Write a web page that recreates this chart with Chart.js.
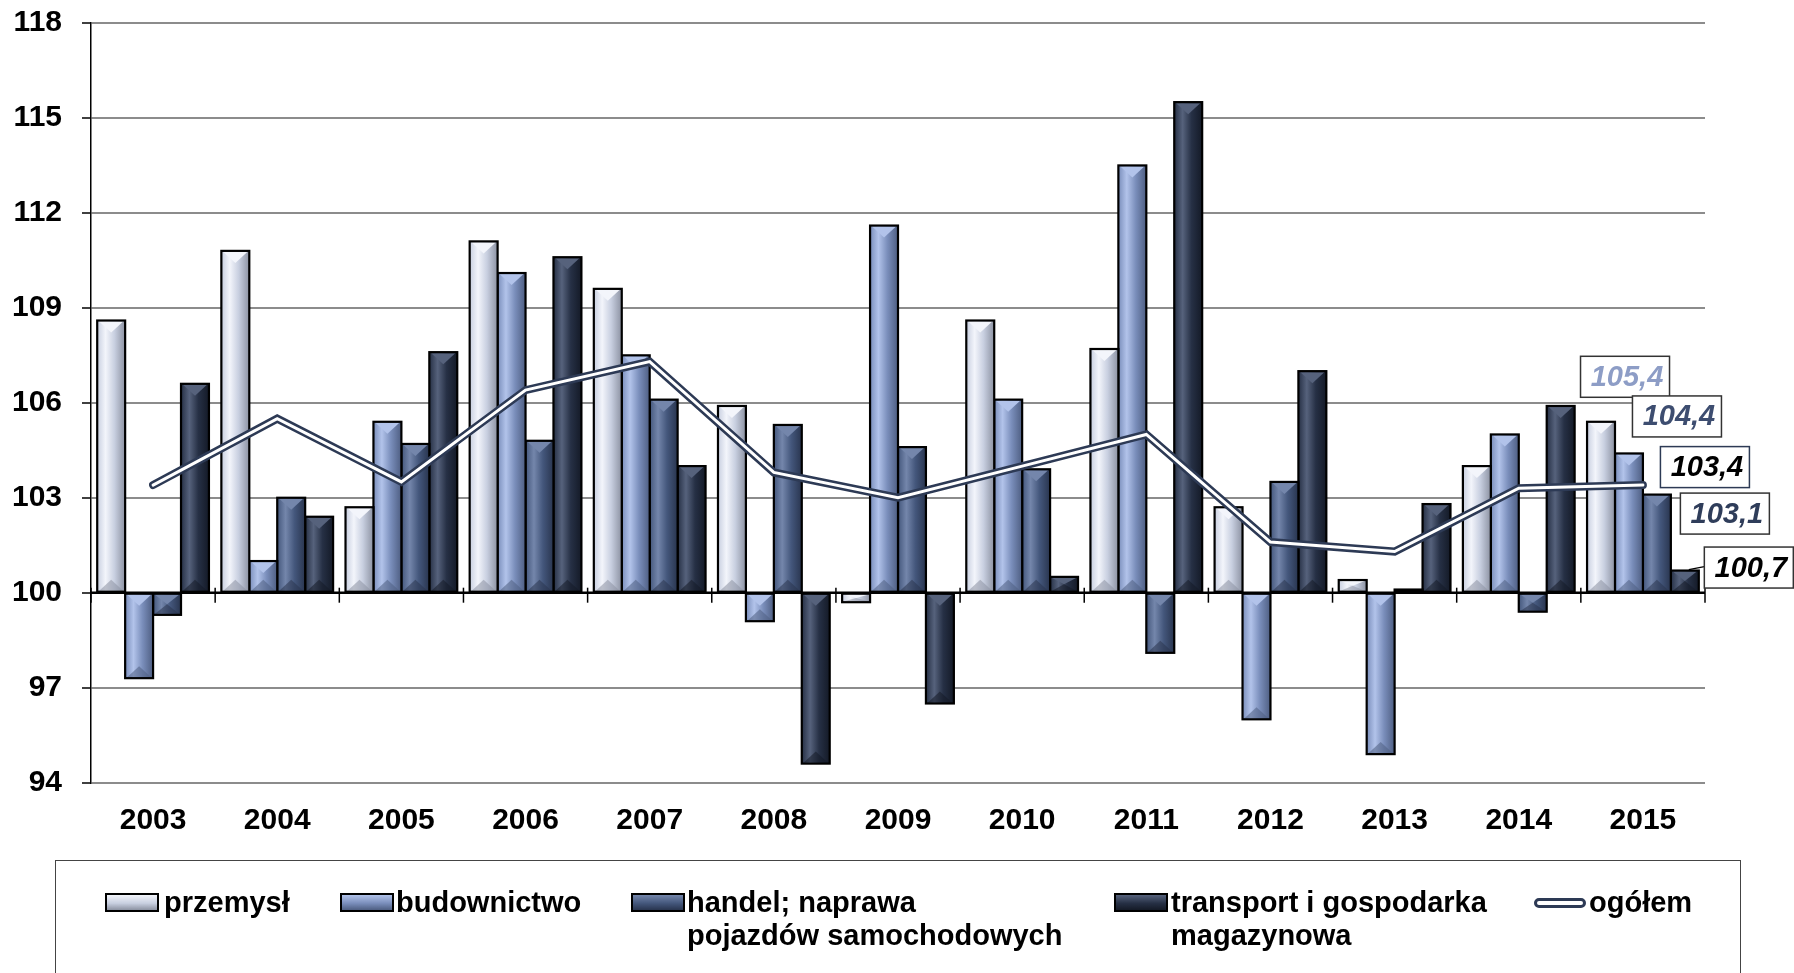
<!DOCTYPE html>
<html lang="pl">
<head>
<meta charset="utf-8">
<title>Dynamika wg sekcji 2003–2015</title>
<script src="https://cdn.jsdelivr.net/npm/chart.js@4.4.1/dist/chart.umd.min.js"></script>
<style>
  html, body { margin: 0; padding: 0; background: #fff; }
  #wrap { position: relative; width: 1794px; height: 973px; overflow: hidden;
          font-family: "Liberation Sans", Arial, sans-serif; }
  #chart { position: absolute; left: 0; top: 0; }
  .legend { position: absolute; left: 55px; top: 860px; width: 1686px; height: 150px;
            border: 1.5px solid #444; box-sizing: border-box; }
  .leg-text { position: absolute; top: 25px; font-weight: bold; font-size: 29px;
              line-height: 33px; color: #000; white-space: nowrap; }
  .leg-icon { position: absolute; top: 32px; width: 54px; height: 19px; box-sizing: border-box;
              border: 2px solid #000; }
  .leg-line { position: absolute; top: 37px; width: 52px; height: 10px; box-sizing: border-box;
              border: 3px solid #2d3a55; border-radius: 5px; background: #fff; }
</style>
</head>
<body>
<div id="wrap">
  <canvas id="chart" width="1794" height="973"></canvas>
  <div class="legend" id="legend"></div>
</div>
<script>
// ---- dane ----
const years = ['2003','2004','2005','2006','2007','2008','2009','2010','2011','2012','2013','2014','2015'];

const przemysl     = [108.6, 110.8, 102.7, 111.1, 109.6, 105.9,  99.7, 108.6, 107.7, 102.7, 100.4, 104.0, 105.4];
const budownictwo  = [ 97.3, 101.0, 105.4, 110.1, 107.5,  99.1, 111.6, 106.1, 113.5,  96.0,  94.9, 105.0, 104.4];
const handel       = [ 99.3, 103.0, 104.7, 104.8, 106.1, 105.3, 104.6, 103.9,  98.1, 103.5, 100.1,  99.4, 103.1];
const transport    = [106.6, 102.4, 107.6, 110.6, 104.0,  94.6,  96.5, 100.5, 115.5, 107.0, 102.8, 105.9, 100.7];
const ogolem       = [103.4, 105.5, 103.5, 106.4, 107.3, 103.8, 103.0, 104.0, 105.0, 101.6, 101.3, 103.3, 103.4];

const seriesNames  = ['przemysł', 'budownictwo', 'handel; naprawa\npojazdów samochodowych',
                      'transport i gospodarka\nmagazynowa', 'ogółem'];

const yMin = 94, yMax = 118, yStep = 3, baseValue = 100;

// ---- wygląd ----
const FONT = '"Liberation Sans", Arial, sans-serif';
const LINE_DARK = '#2d3a55';
const PAL = [
  { base: '#c8cfe0', light: '#f3f5fb', dark: '#8c92a2' },
  { base: '#7a8ebb', light: '#b2c3ea', dark: '#4e5e82' },
  { base: '#44577c', light: '#7486ab', dark: '#29354f' },
  { base: '#263045', light: '#56627c', dark: '#141a27' },
];

// etykiety końcowe (2015): przesunięcia względem słupka/punktu
const endLabels = [
  { ds: 0, dx: 24, dy: -45, color: '#8d9dc6', border: '#333' },
  { ds: 1, dx: 48, dy: -37, color: '#3d4d70', border: '#333' },
  { ds: 4, dx: 62, dy: -18, color: '#000',    border: LINE_DARK },
  { ds: 2, dx: 68, dy: 19,  color: '#2f3d5a', border: '#333' },
  { ds: 3, dx: 64, dy: -3,  color: '#000',    border: '#333', leader: true },
];

function fmt(v) { return v.toFixed(1).replace('.', ','); }

function barDataset(label, data, i) {
  return {
    type: 'bar', label, data, base: baseValue, order: 3,
    backgroundColor: PAL[i].base, borderColor: '#000', borderWidth: 2, borderSkipped: false,
    categoryPercentage: 0.9, barPercentage: 1.0,
  };
}

// cieniowanie słupków (gradient + fazowanie)
const bevelBars = {
  id: 'bevelBars',
  afterDatasetDraw(chart, args) {
    const meta = args.meta;
    if (meta.type !== 'bar') return;
    const pal = PAL[args.index];
    const ctx = chart.ctx;
    meta.data.forEach(el => {
      const p = el.getProps(['x', 'y', 'base', 'width'], true);
      const l = p.x - p.width / 2, r = p.x + p.width / 2;
      const t = Math.min(p.y, p.base), b = Math.max(p.y, p.base);
      const h = b - t;
      ctx.save();
      const g = ctx.createLinearGradient(l, 0, r, 0);
      g.addColorStop(0, pal.base);
      g.addColorStop(0.3, pal.light);
      g.addColorStop(0.62, pal.base);
      g.addColorStop(1, pal.dark);
      ctx.fillStyle = g;
      ctx.fillRect(l, t, r - l, h);
      if (h > 8) {
        const th = Math.min(12, h / 2);
        ctx.fillStyle = pal.light;
        ctx.beginPath();
        ctx.moveTo(l + 2, t + 1); ctx.lineTo(r - 2, t + 1); ctx.lineTo(p.x, t + th);
        ctx.closePath(); ctx.fill();
        ctx.globalAlpha = 0.55;
        ctx.fillStyle = pal.dark;
        ctx.beginPath();
        ctx.moveTo(l + 2, b - 1); ctx.lineTo(r - 2, b - 1); ctx.lineTo(p.x, b - th);
        ctx.closePath(); ctx.fill();
        ctx.globalAlpha = 1;
      }
      ctx.lineWidth = 2.2;
      ctx.strokeStyle = '#000';
      ctx.strokeRect(l, t, r - l, h);
      ctx.restore();
    });
  }
};

// linia 100 i znaczniki kategorii
const baseLine = {
  id: 'baseLine',
  afterDatasetsDraw(chart) {
    const { ctx, chartArea: a, scales: { x, y } } = chart;
    const y0 = y.getPixelForValue(baseValue);
    const w = x.getPixelForValue(1) - x.getPixelForValue(0);
    ctx.save();
    ctx.strokeStyle = '#000';
    ctx.lineWidth = 2.5;
    ctx.beginPath(); ctx.moveTo(a.left, y0); ctx.lineTo(a.right, y0); ctx.stroke();
    ctx.lineWidth = 1.5;
    for (let i = 0; i <= years.length; i++) {
      const px = x.getPixelForValue(i) - w / 2;
      ctx.beginPath(); ctx.moveTo(px, y0 - 5); ctx.lineTo(px, y0 + 10); ctx.stroke();
    }
    ctx.restore();
  }
};

// ramki z wartościami dla 2015
const valueBoxes = {
  id: 'valueBoxes',
  afterDatasetsDraw(chart) {
    const ctx = chart.ctx;
    const bw = 89, bh = 41;
    endLabels.forEach(s => {
      const meta = chart.getDatasetMeta(s.ds);
      const n = meta.data.length - 1;
      const el = meta.data[n];
      const v = chart.data.datasets[s.ds].data[n];
      const ax = el.x;
      const ay = meta.type === 'bar' ? Math.min(el.y, el.base) : el.y;
      const cx = ax + s.dx, cy = ay + s.dy;
      ctx.save();
      if (s.leader) {
        ctx.strokeStyle = '#000'; ctx.lineWidth = 1.2;
        ctx.beginPath(); ctx.moveTo(ax + 4, ay - 1); ctx.lineTo(cx - bw / 2, ay - 4); ctx.stroke();
      }
      ctx.fillStyle = '#fff';
      ctx.fillRect(cx - bw / 2, cy - bh / 2, bw, bh);
      ctx.strokeStyle = s.border; ctx.lineWidth = 1.5;
      ctx.strokeRect(cx - bw / 2, cy - bh / 2, bw, bh);
      ctx.fillStyle = s.color;
      ctx.font = 'italic bold 29px ' + FONT;
      ctx.textAlign = 'center'; ctx.textBaseline = 'middle';
      ctx.fillText(fmt(v), cx + 2, cy + 1);
      ctx.restore();
    });
  }
};

const chart = new Chart(document.getElementById('chart'), {
  data: {
    labels: years,
    datasets: [
      barDataset(seriesNames[0], przemysl, 0),
      barDataset(seriesNames[1], budownictwo, 1),
      barDataset(seriesNames[2], handel, 2),
      barDataset(seriesNames[3], transport, 3),
      { type: 'line', label: seriesNames[4], data: ogolem, order: 2,
        borderColor: LINE_DARK, borderWidth: 8, borderCapStyle: 'round', borderJoinStyle: 'miter',
        pointRadius: 0, tension: 0, fill: false },
      { type: 'line', label: '', data: ogolem, order: 1,
        borderColor: '#fff', borderWidth: 3, borderCapStyle: 'round', borderJoinStyle: 'miter',
        pointRadius: 0, tension: 0, fill: false },
    ]
  },
  options: {
    responsive: false,
    animation: false,
    devicePixelRatio: 1,
    layout: { padding: { top: 23, right: 89, bottom: 130.4, left: 0 } },
    plugins: { legend: { display: false }, tooltip: { enabled: false } },
    scales: {
      x: {
        type: 'category',
        offset: true,
        grid: { display: false },
        border: { display: false },
        ticks: { color: '#000', padding: 12, font: { family: FONT, size: 30, weight: 'bold' } },
        afterFit: s => { s.height = 60; },
      },
      y: {
        min: yMin, max: yMax,
        grid: { color: '#8c8c8c', lineWidth: 2, tickColor: '#000', tickLength: 9, tickWidth: 1.5 },
        border: { color: '#000', width: 1.5 },
        ticks: { stepSize: yStep, color: '#000', padding: 20, font: { family: FONT, size: 30, weight: 'bold' } },
        afterFit: s => { s.width = 91; s.paddingTop = 0; s.paddingBottom = 0; },
      }
    }
  },
  plugins: [bevelBars, baseLine, valueBoxes]
});

// ---- legenda (HTML, wieloliniowe opisy) ----
const legendPos = [
  { icon: 49,   text: 108 },
  { icon: 284,  text: 340 },
  { icon: 575,  text: 631 },
  { icon: 1058, text: 1115 },
  { icon: 1478, text: 1533 },
];
const legend = document.getElementById('legend');
seriesNames.forEach((name, i) => {
  const icon = document.createElement('div');
  if (i < 4) {
    icon.className = 'leg-icon';
    icon.style.background = `linear-gradient(to bottom, ${PAL[i].light} 0%, ${PAL[i].base} 55%, ${PAL[i].dark} 100%)`;
  } else {
    icon.className = 'leg-line';
  }
  icon.style.left = legendPos[i].icon + 'px';
  legend.appendChild(icon);
  const t = document.createElement('div');
  t.className = 'leg-text';
  t.style.left = legendPos[i].text + 'px';
  t.innerHTML = name.split('\n').join('<br>');
  legend.appendChild(t);
});
</script>
</body>
</html>
